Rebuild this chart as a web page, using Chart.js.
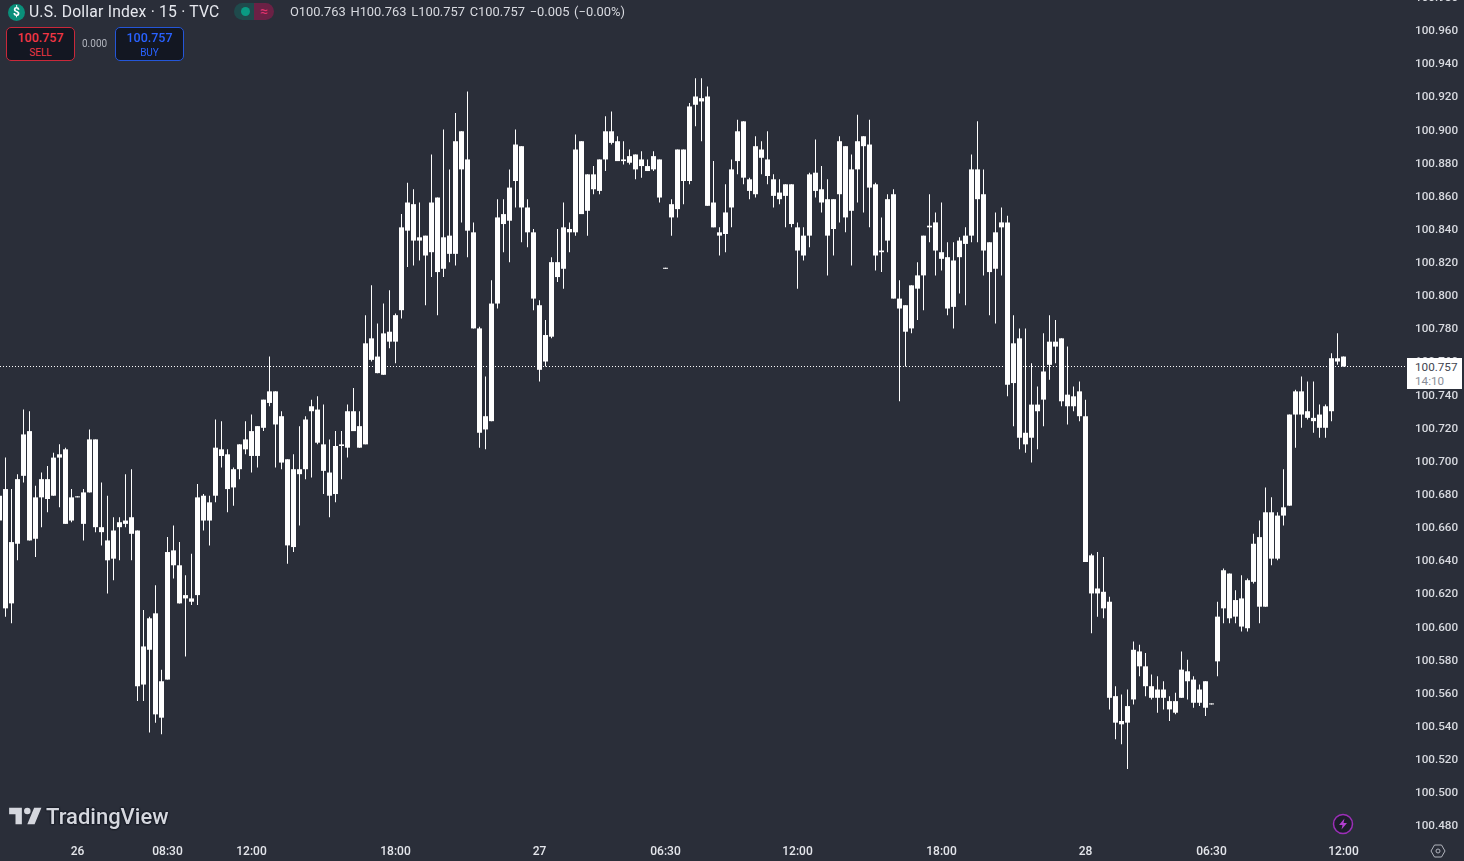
<!DOCTYPE html>
<html>
<head>
<meta charset="utf-8">
<title>U.S. Dollar Index 15</title>
<script src="https://cdn.jsdelivr.net/npm/chart.js@4"></script>
<style>
  html, body { margin: 0; padding: 0; background: #2a2e39; overflow: hidden; }
  #wrap { position: relative; width: 1464px; height: 861px; font-family: Roboto, sans-serif; }
  #chart { position: absolute; left: 0; top: 0; }
  .txt { position: absolute; white-space: nowrap; }
  .title { left: 29px; top: 3px; font-size: 15.7px; line-height: 18px; color: #e6e8ee; letter-spacing: 0.2px; }
  .ohlc { left: 290px; top: 4px; font-size: 12.9px; line-height: 16px; color: #d8dae0; word-spacing: 1.5px; }
  .coin { position: absolute; left: 8px; top: 4px; width: 17px; height: 17px; border-radius: 50%; background: #0a8f7a; color: #fff; font-size: 12px; font-weight: 700; line-height: 17px; text-align: center; }
  .pill { position: absolute; left: 234px; top: 3px; width: 40px; height: 17px; border-radius: 9px; overflow: hidden; }
  .pill i { position: absolute; top: 0; width: 20px; height: 17px; }
  .pill .a { left: 0; background: #1f4a4c; }
  .pill .b { left: 20px; background: #6b2145; color: #e0336f; font-style: normal; font-size: 14px; line-height: 17px; text-align: center; }
  .dot { position: absolute; left: 7px; top: 4px; width: 9px; height: 9px; border-radius: 50%; background: #0a9a83; }
  .btn { position: absolute; top: 27px; width: 67px; height: 32px; border-radius: 5px; background: #131722; text-align: center; }
  .btn .p { font-size: 12.5px; font-weight: 500; line-height: 14px; margin-top: 3px; }
  .btn .s { font-size: 10px; line-height: 12px; margin-top: 2px; }
  .sell { left: 6px; border: 1px solid #c9283a; color: #f23645; }
  .buy { left: 115px; border: 1px solid #2456d8; color: #2962ff; }
  .spread { left: 82px; top: 38px; font-size: 10px; line-height: 12px; color: #b2b5be; }
  .lastbox { position: absolute; left: 1407px; top: 358px; width: 55px; height: 31px; background: #fff; }
  .lastbox .p { position: absolute; left: 8px; top: 2px; font-size: 11.7px; line-height: 15px; color: #434651; }
  .lastbox .t { position: absolute; left: 8px; top: 16px; font-size: 11.7px; line-height: 15px; color: #8a8d97; }
  .brand { left: 46px; top: 804px; font-size: 22px; line-height: 26px; font-weight: 500; color: #d5d7de; text-shadow: 0 0 2px #131722, 0 0 2px #131722, 0 0 2px #131722; }
</style>
</head>
<body>
<div id="wrap">
  <canvas id="chart" width="1464" height="861"></canvas>
  <div class="coin">$</div>
  <div class="txt title">U.S. Dollar Index · 15 · TVC</div>
  <div class="pill"><i class="a"><span class="dot"></span></i><i class="b">≈</i></div>
  <div class="txt ohlc">O100.763 H100.763 L100.757 C100.757 −0.005 (−0.00%)</div>
  <div class="btn sell"><div class="p">100.757</div><div class="s">SELL</div></div>
  <div class="txt spread">0.000</div>
  <div class="btn buy"><div class="p">100.757</div><div class="s">BUY</div></div>
  <div class="lastbox"><div class="p">100.757</div><div class="t">14:10</div></div>
  <svg style="position:absolute;left:9px;top:806px" width="33" height="20" viewBox="0 0 36 22">
    <path d="M14 20H7V9H0V2h14v18zM28 20h-8l7.5-18h8L28 20z" fill="#d5d7de"/>
    <circle cx="20" cy="5.5" r="3.6" fill="#d5d7de"/>
  </svg>
  <div class="txt brand">TradingView</div>
  <svg style="position:absolute;left:1332px;top:813px" width="22" height="22" viewBox="0 0 22 22">
    <circle cx="11" cy="11" r="9.5" fill="#1c1e2a" stroke="#9c2fb8" stroke-width="1.5"/>
    <path d="M12.5 5.5L7 12h3.5l-1 4.5L15 10h-3.5z" fill="#b23fd0"/>
  </svg>
  <svg style="position:absolute;left:1430px;top:843px" width="16" height="16" viewBox="0 0 16 16">
    <path d="M4.5 2h7L15 8l-3.5 6h-7L1 8z" fill="none" stroke="#b2b5be"/>
    <circle cx="8" cy="8" r="2" fill="none" stroke="#b2b5be"/>
  </svg>
</div>
<script>
// wicks and bodies (every candle is white, so no open/close split)
const wickHighs = [
  100.682,100.702,100.683,100.692,100.731,100.730,100.685,100.693,100.697,100.705,100.710,100.708,100.683,100.678,100.683,
  100.719,100.713,100.687,100.679,100.666,100.666,100.692,100.695,100.658,100.610,100.606,100.625,100.574,100.654,100.661,
  100.651,100.631,100.644,100.686,100.680,100.679,100.725,100.724,100.707,100.696,100.710,100.724,100.728,100.721,100.737,
  100.763,100.742,100.730,100.701,100.704,100.721,100.727,100.737,100.739,100.734,100.713,100.718,100.718,100.734,100.744,
  100.730,100.788,100.806,100.783,100.795,100.803,100.789,100.849,100.868,100.864,100.856,100.836,100.885,100.859,100.900,
  100.876,100.910,100.899,100.923,100.844,100.781,100.751,100.809,100.858,100.858,100.876,100.900,100.890,100.858,100.840,
  100.797,100.785,100.823,100.840,100.856,100.844,100.897,100.893,100.873,100.878,100.882,100.908,100.911,100.896,100.893,
  100.888,100.885,100.887,100.882,100.887,100.882,100.816,100.858,100.888,100.888,100.916,100.931,100.931,100.926,100.881,
  100.841,100.867,100.882,100.906,100.905,100.871,100.896,100.893,100.899,100.873,100.870,100.867,100.867,100.844,100.841,
  100.874,100.894,100.878,100.870,100.858,100.896,100.890,100.885,100.909,100.896,100.906,100.868,100.847,100.861,100.864,
  100.809,100.794,100.806,100.820,100.836,100.861,100.850,100.856,100.832,100.832,100.835,100.841,100.885,100.905,100.876,
  100.832,100.850,100.853,100.848,100.788,100.780,100.780,100.759,100.745,100.777,100.788,100.785,100.774,100.769,100.745,
  100.748,100.737,100.644,100.645,100.642,100.618,100.564,100.559,100.562,100.591,100.589,100.584,100.571,100.570,100.567,
  100.558,100.560,100.585,100.580,100.570,100.565,100.567,100.553,100.615,100.635,100.632,100.622,100.631,100.629,100.656,
  100.664,100.684,100.678,100.669,100.695,100.728,100.743,100.751,100.748,100.748,100.734,100.734,100.765,100.777,100.763
];
const bodyHighs = [
  100.679,100.683,100.651,100.689,100.716,100.718,100.678,100.689,100.689,100.702,100.704,100.707,100.678,100.678,100.681,
  100.713,100.713,100.660,100.652,100.658,100.663,100.664,100.666,100.658,100.588,100.605,100.608,100.567,100.645,100.646,
  100.637,100.619,100.617,100.678,100.679,100.675,100.708,100.707,100.704,100.695,100.710,100.713,100.718,100.721,100.737,
  100.742,100.742,100.727,100.701,100.695,100.695,100.725,100.733,100.731,100.710,100.693,100.709,100.710,100.730,100.730,
  100.721,100.771,100.774,100.763,100.777,100.778,100.788,100.841,100.856,100.855,100.835,100.836,100.856,100.859,100.835,
  100.836,100.893,100.899,100.882,100.838,100.780,100.727,100.795,100.847,100.849,100.865,100.891,100.890,100.853,100.838,
  100.794,100.776,100.820,100.820,100.841,100.840,100.888,100.893,100.873,100.873,100.882,100.899,100.899,100.893,100.882,
  100.884,100.885,100.882,100.878,100.884,100.882,100.816,100.855,100.888,100.888,100.914,100.920,100.919,100.920,100.856,
  100.838,100.850,100.876,100.899,100.905,100.870,100.890,100.888,100.882,100.870,100.862,100.867,100.867,100.841,100.836,
  100.873,100.874,100.864,100.858,100.858,100.893,100.890,100.876,100.893,100.896,100.891,100.867,100.827,100.858,100.861,
  100.798,100.794,100.806,100.812,100.836,100.842,100.844,100.826,100.823,100.821,100.833,100.836,100.876,100.876,100.861,
  100.832,100.838,100.844,100.844,100.771,100.774,100.717,100.734,100.734,100.754,100.772,100.772,100.774,100.740,100.739,
  100.742,100.727,100.643,100.623,100.621,100.615,100.558,100.543,100.552,100.586,100.585,100.576,100.564,100.562,100.562,
  100.555,100.555,100.574,100.573,100.568,100.562,100.567,100.553,100.606,100.634,100.632,100.616,100.617,100.628,100.650,
  100.654,100.669,100.669,100.667,100.672,100.728,100.742,100.742,100.730,100.726,100.728,100.733,100.762,100.762,100.763
];
const bodyLows = [
  100.664,100.611,100.614,100.650,100.691,100.652,100.653,100.678,100.677,100.679,100.702,100.662,100.664,100.678,100.662,
  100.681,100.660,100.657,100.640,100.641,100.660,100.662,100.656,100.564,100.565,100.586,100.547,100.545,100.568,100.637,
  100.614,100.617,100.615,100.619,100.664,100.664,100.679,100.703,100.683,100.684,100.695,100.707,100.703,100.703,100.720,
  100.735,100.722,100.699,100.649,100.648,100.692,100.695,100.730,100.711,100.694,100.679,100.680,100.709,100.708,100.718,
  100.708,100.710,100.761,100.753,100.752,100.772,100.772,100.791,100.839,100.833,100.833,100.824,100.826,100.814,100.816,
  100.825,100.825,100.876,100.839,100.780,100.717,100.719,100.724,100.795,100.843,100.845,100.869,100.853,100.838,100.798,
  100.755,100.760,100.775,100.811,100.816,100.838,100.838,100.849,100.851,100.864,100.863,100.882,100.892,100.881,100.881,
  100.880,100.876,100.878,100.875,100.876,100.859,100.816,100.847,100.852,100.869,100.869,100.915,100.917,100.854,100.841,
  100.836,100.837,100.853,100.881,100.871,100.863,100.861,100.883,100.872,100.860,100.858,100.860,100.843,100.827,100.824,
  100.836,100.863,100.856,100.836,100.840,100.861,100.847,100.851,100.876,100.890,100.865,100.824,100.826,100.833,100.798,
  100.792,100.778,100.780,100.804,100.812,100.841,100.827,100.822,100.792,100.793,100.823,100.831,100.836,100.858,100.827,
  100.814,100.816,100.841,100.746,100.747,100.714,100.710,100.714,100.730,100.737,100.758,100.769,100.736,100.733,100.733,
  100.727,100.639,100.620,100.620,100.611,100.557,100.542,100.541,100.542,100.556,100.576,100.564,100.557,100.557,100.557,
  100.550,100.548,100.557,100.567,100.554,100.554,100.551,100.553,100.579,100.611,100.605,100.606,100.600,100.599,100.627,
  100.612,100.612,100.641,100.641,100.667,100.673,100.728,100.728,100.726,100.724,100.720,100.720,100.730,100.760,100.757
];
const wickLows = [
  100.660,100.606,100.602,100.640,100.687,100.652,100.642,100.660,100.669,100.679,100.672,100.662,100.663,100.678,100.652,
  100.681,100.657,100.649,100.620,100.628,100.640,100.660,100.640,100.555,100.555,100.536,100.542,100.535,100.568,100.629,
  100.614,100.582,100.613,100.613,100.658,100.649,100.675,100.696,100.669,100.673,100.689,100.704,100.693,100.696,100.718,
  100.733,100.696,100.695,100.638,100.645,100.661,100.689,100.690,100.710,100.680,100.666,100.675,100.689,100.702,100.718,
  100.708,100.710,100.760,100.753,100.752,100.768,100.759,100.786,100.817,100.818,100.821,100.794,100.811,100.788,100.811,
  100.820,100.818,100.844,100.823,100.780,100.708,100.707,100.724,100.792,100.826,100.820,100.853,100.832,100.829,100.791,
  100.748,100.757,100.774,100.808,100.804,100.826,100.836,100.849,100.836,100.861,100.861,100.875,100.891,100.881,100.879,
  100.879,100.870,100.871,100.875,100.875,100.856,100.816,100.836,100.847,100.855,100.867,100.902,100.893,100.854,100.841,
  100.824,100.826,100.841,100.873,100.867,100.858,100.859,100.873,100.867,100.853,100.855,100.841,100.841,100.804,100.821,
  100.829,100.859,100.850,100.812,100.824,100.844,100.838,100.818,100.856,100.850,100.841,100.815,100.814,100.826,100.798,
  100.736,100.757,100.777,100.785,100.791,100.832,100.812,100.815,100.788,100.780,100.801,100.794,100.832,100.832,100.812,
  100.788,100.783,100.812,100.739,100.721,100.707,100.705,100.699,100.707,100.721,100.749,100.759,100.733,100.722,100.730,
  100.724,100.639,100.596,100.606,100.605,100.550,100.532,100.529,100.514,100.553,100.570,100.558,100.556,100.548,100.550,
  100.543,100.547,100.557,100.556,100.551,100.552,100.546,100.553,100.570,100.602,100.602,100.602,100.597,100.597,100.626,
  100.602,100.612,100.637,100.640,100.661,100.673,100.708,100.720,100.725,100.717,100.714,100.714,100.724,100.758,100.757
];

const tickLabels = ["26", "08:30", "12:00", "18:00", "27", "06:30", "12:00", "18:00", "28", "06:30", "12:00"];
const tickIndexes = [13, 28, 42, 66, 90, 111, 133, 157, 181, 202, 224];
const priceTicks = [
  100.48, 100.50, 100.52, 100.54, 100.56, 100.58, 100.60, 100.62, 100.64, 100.66, 100.68, 100.70, 100.72,
  100.74, 100.76, 100.78, 100.80, 100.82, 100.84, 100.86, 100.88, 100.90, 100.92, 100.94, 100.96, 100.98
];
const lastPrice = 100.757;

// 6px per candle, first candle cut by the left edge
const xMin = 1 / 12;
const xMax = xMin + 1407 / 6;

const candleData = (lo, hi) => lo.map((v, i) => ({ x: i, y: [v, hi[i]] }));

// labels would otherwise push the plot area in from the canvas edges
const noPadding = (scale) => {
  scale.paddingLeft = 0;
  scale.paddingRight = 0;
  scale.paddingTop = 0;
  scale.paddingBottom = 0;
};

// price labels sit one pixel below what the canvas middle baseline gives
const nudgePriceLabels = {
  id: "nudgePriceLabels",
  beforeDraw(chart) {
    const scale = chart.scales.y;
    scale.getLabelItems(chart.chartArea).forEach((item) => { item.options.translation[1] += 1; });
  },
};

new Chart(document.getElementById("chart"), {
  type: "bar",
  plugins: [nudgePriceLabels],
  data: {
    datasets: [
      {
        type: "line",
        data: [{ x: xMin, y: lastPrice }, { x: xMax, y: lastPrice }],
        borderColor: "#ffffff",
        borderWidth: 1,
        borderDash: [1, 2],
        pointRadius: 0,
        order: 3,
      },
      {
        data: candleData(wickLows, wickHighs),
        backgroundColor: "#ffffff",
        barThickness: 1,
        grouped: false,
        inflateAmount: 0,
        minBarLength: 1,
        order: 2,
      },
      {
        data: candleData(bodyLows, bodyHighs),
        backgroundColor: "#ffffff",
        barThickness: 5,
        grouped: false,
        inflateAmount: 0,
        minBarLength: 1,
        order: 1,
      },
    ],
  },
  options: {
    responsive: false,
    animation: false,
    events: [],
    layout: { padding: 0 },
    plugins: { legend: { display: false }, tooltip: { enabled: false } },
    scales: {
      x: {
        type: "linear",
        offset: false,
        min: xMin,
        max: xMax,
        grid: { display: false, drawTicks: false },
        border: { display: false },
        afterFit: (scale) => { scale.height = 21; noPadding(scale); },
        afterBuildTicks: (scale) => { scale.ticks = tickIndexes.map((v) => ({ value: v })); },
        ticks: {
          autoSkip: false,
          maxRotation: 0,
          padding: 5,
          color: "#e4e6eb",
          font: { family: "Roboto", size: 12, weight: "500" },
          callback: (value) => tickLabels[tickIndexes.indexOf(value)],
        },
      },
      y: {
        position: "right",
        min: 100.47116,
        max: 100.97825,
        grid: { display: false, drawTicks: false },
        border: { display: false },
        afterFit: (scale) => { scale.width = 57; noPadding(scale); },
        afterBuildTicks: (scale) => { scale.ticks = priceTicks.map((v) => ({ value: v })); },
        ticks: {
          autoSkip: false,
          padding: 8,
          color: "#d8dae0",
          font: { family: "Roboto", size: 11.7, weight: "500" },
          callback: (value) => value.toFixed(3),
        },
      },
    },
  },
});
</script>
</body>
</html>
